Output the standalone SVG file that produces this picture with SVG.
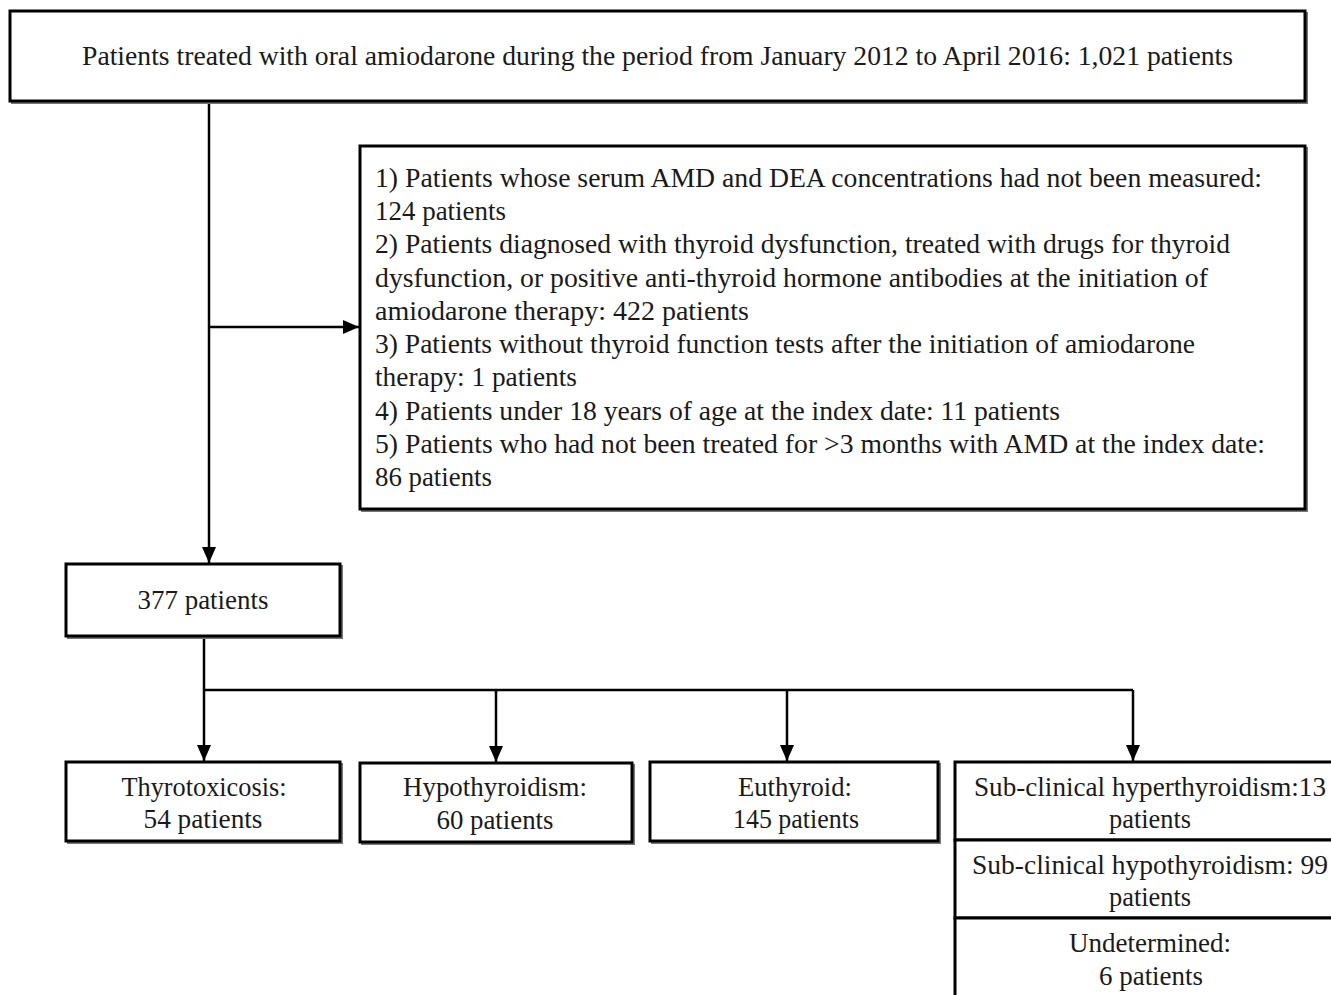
<svg xmlns="http://www.w3.org/2000/svg" width="1331" height="995" viewBox="0 0 1331 995">
<defs>
<style>
.box{fill:#fff;stroke:#000;stroke-width:3}
.shadow{fill:none;stroke:#777;stroke-width:2}
.t{font-family:"Liberation Serif","Times New Roman",serif;font-size:27px;fill:#1a1a1a}
.c{text-anchor:middle}
.conn{stroke:#000;stroke-width:2.5;fill:none}
</style>
<marker id="arr" markerUnits="userSpaceOnUse" markerWidth="18" markerHeight="16" refX="16" refY="7" orient="auto">
<path d="M0,0 L16,7 L0,14 Z" fill="#000"/>
</marker>
</defs>
<rect width="1331" height="995" fill="#fff"/>

<g id="connectors">
<line class="conn" x1="209" y1="101" x2="209" y2="563" marker-end="url(#arr)"/>
<line class="conn" x1="209" y1="327" x2="359" y2="327" marker-end="url(#arr)"/>
<line class="conn" x1="204" y1="637" x2="204" y2="761" marker-end="url(#arr)"/>
<line class="conn" x1="204" y1="690" x2="1133" y2="690"/>
<line class="conn" x1="496" y1="690" x2="496" y2="762" marker-end="url(#arr)"/>
<line class="conn" x1="787" y1="690" x2="787" y2="761" marker-end="url(#arr)"/>
<line class="conn" x1="1133" y1="690" x2="1133" y2="761" marker-end="url(#arr)"/>
</g>

<g id="start">
<rect class="shadow" x="12" y="13" width="1295" height="90"/>
<rect class="box" x="10" y="11" width="1295" height="90"/>
<text class="t" x="82" y="65" textLength="1151" lengthAdjust="spacingAndGlyphs">Patients treated with oral amiodarone during the period from January 2012 to April 2016: 1,021 patients</text>
</g>

<g id="exclusion">
<rect class="shadow" x="362" y="148" width="945" height="363"/>
<rect class="box" x="360" y="146" width="945" height="363"/>
<text class="t" x="375" y="187" textLength="887" lengthAdjust="spacingAndGlyphs">1) Patients whose serum AMD and DEA concentrations had not been measured:</text>
<text class="t" x="375" y="220" textLength="131" lengthAdjust="spacingAndGlyphs">124 patients</text>
<text class="t" x="375" y="253" textLength="855" lengthAdjust="spacingAndGlyphs">2) Patients diagnosed with thyroid dysfunction, treated with drugs for thyroid</text>
<text class="t" x="375" y="287" textLength="833" lengthAdjust="spacingAndGlyphs">dysfunction, or positive anti-thyroid hormone antibodies at the initiation of</text>
<text class="t" x="375" y="320" textLength="374" lengthAdjust="spacingAndGlyphs">amiodarone therapy:  422 patients</text>
<text class="t" x="375" y="353" textLength="820" lengthAdjust="spacingAndGlyphs">3) Patients without thyroid function tests after the initiation of amiodarone</text>
<text class="t" x="375" y="386" textLength="202" lengthAdjust="spacingAndGlyphs">therapy: 1 patients</text>
<text class="t" x="375" y="420" textLength="685" lengthAdjust="spacingAndGlyphs">4) Patients under 18 years of age at the index date: 11 patients</text>
<text class="t" x="375" y="453" textLength="890" lengthAdjust="spacingAndGlyphs">5) Patients who had not been treated for &gt;3 months with AMD at the index date:</text>
<text class="t" x="375" y="486" textLength="117" lengthAdjust="spacingAndGlyphs">86 patients</text>
</g>

<g id="included">
<rect class="shadow" x="68" y="566" width="274" height="72"/>
<rect class="box" x="66" y="564" width="274" height="72"/>
<text class="t c" x="203" y="609" textLength="131" lengthAdjust="spacingAndGlyphs">377 patients</text>
</g>

<g id="thyrotoxicosis">
<rect class="shadow" x="68" y="764" width="274" height="79"/>
<rect class="box" x="66" y="762" width="274" height="79"/>
<text class="t c" x="204" y="796" textLength="165" lengthAdjust="spacingAndGlyphs">Thyrotoxicosis:</text>
<text class="t c" x="203" y="828" textLength="119" lengthAdjust="spacingAndGlyphs">54 patients</text>
</g>

<g id="hypothyroidism">
<rect class="shadow" x="362" y="765" width="272" height="79"/>
<rect class="box" x="360" y="763" width="272" height="79"/>
<text class="t c" x="495" y="796" textLength="184" lengthAdjust="spacingAndGlyphs">Hypothyroidism:</text>
<text class="t c" x="495" y="829" textLength="117" lengthAdjust="spacingAndGlyphs">60 patients</text>
</g>

<g id="euthyroid">
<rect class="shadow" x="652" y="764" width="288" height="79"/>
<rect class="box" x="650" y="762" width="288" height="79"/>
<text class="t c" x="795" y="796" textLength="114" lengthAdjust="spacingAndGlyphs">Euthyroid:</text>
<text class="t c" x="796" y="828" textLength="126" lengthAdjust="spacingAndGlyphs">145 patients</text>
</g>

<g id="subclinical-hyper">
<rect class="box" x="955" y="762" width="400" height="78"/>
<text class="t" x="974" y="796" textLength="352" lengthAdjust="spacingAndGlyphs">Sub-clinical  hyperthyroidism:13</text>
<text class="t c" x="1150" y="828" textLength="82" lengthAdjust="spacingAndGlyphs">patients</text>
</g>

<g id="subclinical-hypo">
<rect class="box" x="955" y="840" width="400" height="78"/>
<text class="t" x="972" y="874" textLength="356" lengthAdjust="spacingAndGlyphs">Sub-clinical  hypothyroidism: 99</text>
<text class="t c" x="1150" y="906" textLength="82" lengthAdjust="spacingAndGlyphs">patients</text>
</g>

<g id="undetermined">
<rect class="box" x="955" y="918" width="400" height="90"/>
<text class="t c" x="1150" y="952" textLength="162" lengthAdjust="spacingAndGlyphs">Undetermined:</text>
<text class="t c" x="1151" y="985" textLength="104" lengthAdjust="spacingAndGlyphs">6 patients</text>
</g>
</svg>
